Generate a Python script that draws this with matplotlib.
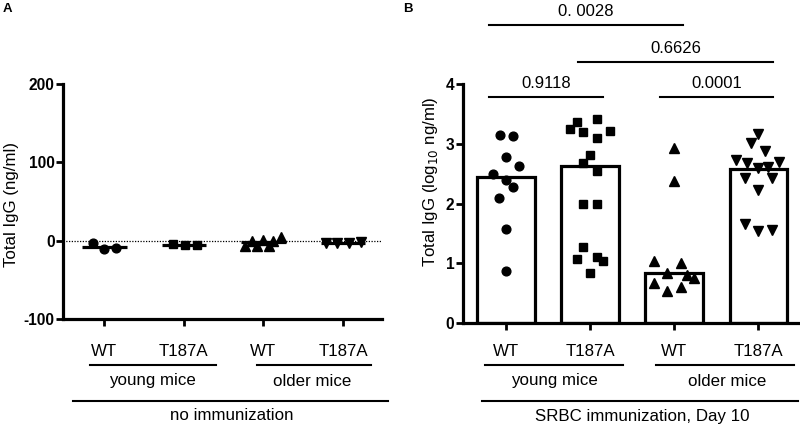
import matplotlib
matplotlib.use("Agg")
import matplotlib.pyplot as plt
from matplotlib.transforms import blended_transform_factory
import numpy as np

plt.rcParams['font.family'] = ['Liberation Sans', 'DejaVu Sans']

# ---------------- data ----------------
genotypes = ["WT", "T187A", "WT", "T187A"]
age_groups = ["young mice", "older mice"]

# Panel A (ng/ml), no immunization
a_young_wt = [-3, -10, -9]
a_young_wt_dx = [-0.14, 0.0, 0.14]
a_young_t = [-4, -5, -5]
a_young_t_dx = [-0.14, 0.01, 0.16]
a_old_wt = [-6, -7, -6, 5, 0, 1, 0]
a_old_wt_dx = [-0.23, -0.08, 0.07, 0.22, -0.15, 0.0, 0.12]
a_old_t = [-3, -3, -3, -1]
a_old_t_dx = [-0.21, -0.07, 0.08, 0.23]
a_means = [-7.3, -5.0, -1.0, -2.5]

# Panel B (log10 ng/ml), SRBC day 10
b_young_wt = [3.15, 3.13, 2.78, 2.63, 2.50, 2.40, 2.27, 2.10, 1.57, 0.87]
b_young_wt_dx = [-0.07, 0.08, 0.0, 0.16, -0.16, 0.0, 0.08, -0.08, 0.0, 0.0]
b_young_t = [3.37, 3.41, 3.25, 3.20, 3.22, 3.09, 2.81, 2.68, 2.55, 1.99, 1.99,
             1.28, 1.07, 1.11, 1.04, 0.84]
b_young_t_dx = [-0.16, 0.08, -0.24, -0.08, 0.24, 0.08, 0.0, -0.08, 0.08, -0.08,
                0.08, -0.08, -0.16, 0.08, 0.16, 0.0]
b_old_wt = [2.93, 2.38, 1.04, 1.00, 0.83, 0.81, 0.76, 0.67, 0.60, 0.54]
b_old_wt_dx = [0.0, 0.0, -0.24, 0.08, -0.08, 0.16, 0.24, -0.24, 0.08, -0.08]
b_old_t = [3.17, 3.01, 2.88, 2.73, 2.67, 2.59, 2.61, 2.69, 2.43, 2.43, 2.23,
           1.66, 1.54, 1.56]
b_old_t_dx = [0.0, -0.08, 0.08, -0.26, -0.13, 0.0, 0.12, 0.25, -0.16, 0.16, 0.0,
              -0.16, 0.0, 0.16]
b_means = [2.45, 2.62, 0.84, 2.58]

# p-value brackets: (x1, x2, y, label)
brackets = [(-0.2, 1.155, 3.78, "0.9118"),
            (1.83, 3.18, 3.78, "0.0001"),
            (0.857, 3.18, 4.37, "0.6626"),
            (-0.2, 2.107, 4.99, "0. 0028")]

markers = ["o", "s", "^", "v"]
msizes = [6.3, 6.0, 6.8, 6.8]

FS = 12.2

fig = plt.figure(figsize=(8, 4.26), dpi=100)
axA = fig.add_axes([63/800, 1-319.3/426, (382-63)/800, (319.3-84)/426])
axB = fig.add_axes([462.7/800, 1-323/426, (798-462.7)/800, (323-84)/426])

SP_LW = 2.3
for ax in (axA, axB):
    for s in ("top", "right"):
        ax.spines[s].set_visible(False)
    for s in ("left", "bottom"):
        ax.spines[s].set_linewidth(SP_LW)
    ax.tick_params(axis="both", direction="out", width=2, length=5)
    ax.tick_params(axis="y", labelsize=11.2, pad=1)
    ax.set_xticks(range(4))
    ax.set_xticklabels([])

# ---------- Panel A ----------
axA.set_xlim(-0.52, 3.49)
axA.set_ylim(-100, 200)
axA.set_yticks([-100, 0, 100, 200])
axA.set_yticklabels(["-100", "0", "100", "200"], fontweight="bold")
axA.axhline(0, color="black", lw=0.9, ls=(0, (1, 1.2)), zorder=1)
a_sets = [(a_young_wt, a_young_wt_dx), (a_young_t, a_young_t_dx),
          (a_old_wt, a_old_wt_dx), (a_old_t, a_old_t_dx)]
for i, (vals, dx) in enumerate(a_sets):
    axA.plot(i + np.array(dx), vals, ls="none", marker=markers[i],
             ms=msizes[i], color="black", zorder=3)
    axA.plot([i - 0.28, i + 0.28], [a_means[i], a_means[i]], color="black",
             lw=2.3, zorder=2, solid_capstyle="butt")

# ---------- Panel B ----------
axB.set_xlim(-0.515, 3.475)
axB.set_ylim(0, 4)
axB.set_yticks([0, 1, 2, 3, 4])
axB.set_yticklabels(["0", "1", "2", "3", "4"], fontweight="bold")
axB.bar(range(4), b_means, width=0.68, facecolor="white", edgecolor="black",
        linewidth=2.3, zorder=1)
b_sets = [(b_young_wt, b_young_wt_dx), (b_young_t, b_young_t_dx),
          (b_old_wt, b_old_wt_dx), (b_old_t, b_old_t_dx)]
for i, (vals, dx) in enumerate(b_sets):
    axB.plot(i + np.array(dx), vals, ls="none", marker=markers[i],
             ms=msizes[i], color="black", zorder=3, clip_on=False)

for x1, x2, y, lab in brackets:
    axB.plot([x1, x2], [y, y], color="black", lw=1.5, clip_on=False)
    axB.text((x1 + x2) / 2, y + 0.1, lab, ha="center", va="bottom",
             fontsize=12, clip_on=False)

# ---------- group labels under axes ----------
def group_labels(ax, young_line, old_line, bottom_line, young_x, old_x,
                 bottom_x, bottom_text):
    tr = blended_transform_factory(ax.transData, fig.transFigure)
    for i, g in enumerate(genotypes):
        ax.text(i, 1 - 351/426, g, transform=tr, ha="center", va="center",
                fontsize=FS)
    yl = 1 - 365/426
    ax.plot(young_line, [yl, yl], transform=tr, color="black", lw=1.5,
            clip_on=False)
    ax.plot(old_line, [yl, yl], transform=tr, color="black", lw=1.5,
            clip_on=False)
    ax.text(young_x, 1 - 381/426, age_groups[0], transform=tr, ha="center",
            va="center", fontsize=FS)
    ax.text(old_x, 1 - 381/426, age_groups[1], transform=tr, ha="center",
            va="center", fontsize=FS)
    yb = 1 - 401/426
    ax.plot(bottom_line, [yb, yb], transform=tr, color="black", lw=1.5,
            clip_on=False)
    ax.text(bottom_x, 1 - 416/426, bottom_text, transform=tr, ha="center",
            va="center", fontsize=FS)

group_labels(axA, [-0.18, 1.40], [1.92, 3.35], [-0.39, 3.57], 0.6, 2.61, 1.6,
             "no immunization")
group_labels(axB, [-0.25, 1.39], [1.79, 3.43], [-0.28, 3.48], 0.58, 2.63, 1.62,
             "SRBC immunization, Day 10")

# y labels
fig.text(12/800, 1 - 266.7/426, "Total IgG (ng/ml)", rotation=90, ha="center",
         va="bottom", fontsize=FS)
fig.text(430/800, 1 - 266.7/426, "Total IgG (log$_{10}$ ng/ml)", rotation=90,
         ha="center", va="bottom", fontsize=FS)

# panel letters
fig.text(7/800, 1 - 9.5/426, "A", fontweight="bold", fontsize=9.5, ha="center",
         va="center")
fig.text(408/800, 1 - 9.5/426, "B", fontweight="bold", fontsize=9.5,
         ha="center", va="center")

fig.savefig("out.png", dpi=100)
